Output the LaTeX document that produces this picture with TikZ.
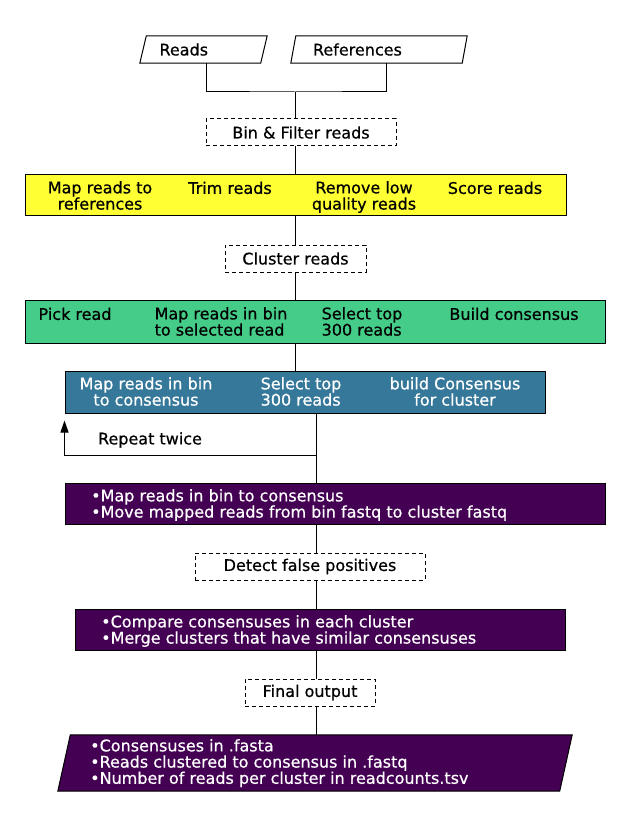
\documentclass[tikz,border=0pt]{standalone}
\usepackage{fontspec}
\setmainfont{DejaVu Sans}[FakeBold=0.6]
\usetikzlibrary{arrows.meta}
\definecolor{stepyellow}{HTML}{FFFF33}
\definecolor{stepgreen}{HTML}{44CC88}
\definecolor{stepblue}{HTML}{35789A}
\definecolor{steppurple}{HTML}{440154}

\tikzset{
    every node/.style={font=\fontsize{16}{16.2}\selectfont},
    iobox/.style={inner sep=0pt, align=left},
    dashbox/.style={draw, line width=1pt, dash pattern=on 4pt off 3pt,
        minimum height=27pt, inner sep=0pt},
    stepbox/.style={draw, line width=1pt, inner sep=0pt},
    celltext/.style={inner sep=0pt, anchor=north, align=center},
    listtext/.style={inner sep=0pt, anchor=north west, align=left, text=white},
    link/.style={line width=1pt}
}

\begin{document}
\lineskiplimit=-20pt
\begin{tikzpicture}[x=1pt, y=-1pt]
    \useasboundingbox (0,0) rectangle (630,826);

    % inputs
    \node[iobox, minimum width=127pt, minimum height=27pt, text width=88pt] (reads) at (203.5,49.5) {Reads};
    \draw[link] ([xshift=6.5pt]reads.north west) -- (reads.north east)
        -- ([xshift=-6.5pt]reads.south east) -- (reads.south west) -- cycle;
    \node[iobox, minimum width=176pt, minimum height=27pt, text width=132pt] (refs) at (379,49.5) {References};
    \draw[link] ([xshift=5pt]refs.north west) -- (refs.north east)
        -- ([xshift=-5pt]refs.south east) -- (refs.south west) -- cycle;
    \coordinate (join) at (295,92);
    \draw[link] ([xshift=2.5pt]reads.south) |- (join) -| ([xshift=7pt]refs.south);

    \node[dashbox, minimum width=190pt] (bin) at (301,132.5) {Bin \& Filter reads};
    \draw[link] (join) -- (join |- bin.north);

    % binning
    \node[stepbox, fill=stepyellow, minimum width=541pt, minimum height=41pt] (filter) at (295.5,195.5) {};
    \node[celltext] (mapref) at (100,181) {Map reads to\\references};
    \node[celltext] (trim) at (230,181.5) {Trim reads};
    \node[celltext] (lowq) at (364,181) {Remove low\\quality reads};
    \node[celltext] (score) at (495,181.5) {Score reads};
    \draw[link] (join |- bin.south) -- (join |- filter.north);

    \node[dashbox, minimum width=141pt] (cluster) at (295.5,258.5) {Cluster reads};
    \draw[link] (join |- filter.south) -- (join |- cluster.north);

    % clustering
    \node[stepbox, fill=stepgreen, minimum width=580pt, minimum height=43pt] (pick) at (315,321.5) {};
    \node[celltext] (pickread) at (75,307.5) {Pick read};
    \node[celltext, align=left] (mapsel) at (221,307) {Map reads in bin\\to selected read};
    \node[celltext, align=left] (topsel) at (362,307) {Select top\\300 reads};
    \node[celltext] (build) at (514,307.5) {Build consensus};
    \draw[link] (join |- cluster.south) -- (join |- pick.north);

    \node[stepbox, fill=stepblue, minimum width=480pt, minimum height=42pt] (polish) at (305,392) {};
    \node[celltext, text=white] (mapcons) at (146,377) {Map reads in bin\\to consensus};
    \node[celltext, text=white, align=left] (toppol) at (301,377) {Select top\\300 reads};
    \node[celltext, text=white] (buildcl) at (455,377) {build Consensus\\for cluster};
    \draw[link] (join |- pick.south) -- (join |- polish.north);

    % repeat loop
    \coordinate (spine) at (316,455);
    \draw[link] (spine |- polish.south) -- (spine);
    \draw[link, -{Triangle[length=12pt, width=8pt]}] (spine) -| ([yshift=-7pt]polish.south west);
    \node[inner sep=0pt] (repeat) at (150,440) {Repeat twice};

    \node[stepbox, fill=steppurple, minimum width=540pt, minimum height=41pt] (assign) at (335,503.5) {};
    \node[listtext] (assigntxt) at (91,489) {•Map reads in bin to consensus\\•Move mapped reads from bin fastq to cluster fastq};
    \draw[link] (spine) -- (spine |- assign.north);

    \node[dashbox, minimum width=230pt] (detect) at (310,566.5) {Detect false positives};
    \draw[link] (spine |- assign.south) -- (spine |- detect.north);

    \node[stepbox, fill=steppurple, minimum width=490pt, minimum height=41pt] (merge) at (320,629.5) {};
    \node[listtext] (mergetxt) at (101,615) {•Compare consensuses in each cluster\\•Merge clusters that have similar consensuses};
    \draw[link] (spine |- detect.south) -- (spine |- merge.north);

    \node[dashbox, minimum width=130pt] (final) at (310,692.5) {Final output};
    \draw[link] (spine |- merge.south) -- (spine |- final.north);

    % outputs
    \node[iobox, minimum width=514pt, minimum height=56pt] (output) at (315,763) {};
    \draw[link, fill=steppurple] ([xshift=12.5pt]output.north west) -- (output.north east)
        -- ([xshift=-12.5pt]output.south east) -- (output.south west) -- cycle;
    \node[listtext] (outtxt) at (90,739) {•Consensuses in .fasta\\•Reads clustered to consensus in .fastq\\•Number of reads per cluster in readcounts.tsv};
    \draw[link] (spine |- final.south) -- (spine |- output.north);
\end{tikzpicture}
\end{document}
